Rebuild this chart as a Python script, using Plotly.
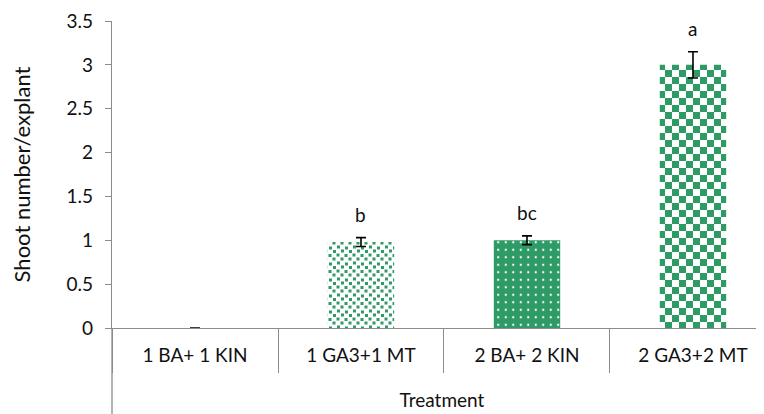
import plotly.graph_objects as go

categories = ["1 BA+ 1 KIN", "1 GA3+1 MT", "2 BA+ 2 KIN", "2 GA3+2 MT"]
values = [0.0, 0.98, 1.0, 3.0]
errors = [0.0, 0.05, 0.05, 0.15]
letters = ["", "b", "bc", "a"]
y_ticks = [0, 0.5, 1, 1.5, 2, 2.5, 3, 3.5]
y_tick_labels = ["0", "0.5", "1", "1.5", "2", "2.5", "3", "3.5"]

GREEN = "#2e9a66"
FONT = "Lato, 'Open Sans', sans-serif"
AXIS = "#8c8c8c"
TXT = "#111111"

fig = go.Figure()

confetti = ("M1,0.5H4V3.5H1Z M9,1.5H12V4.5H9Z M5,4.5H8V7.5H5Z M13,5H16V8H13Z "
            "M0.5,8.5H3.5V11.5H0.5Z M8.5,9H11.5V12H8.5Z M4.5,12.5H7.5V15.5H4.5Z M12.5,12.5H15.5V15.5H12.5Z")

patterns = [
    dict(shape="", bgcolor="white", fgcolor=GREEN),
    dict(path=confetti, size=16, bgcolor="white", fgcolor=GREEN, fillmode="replace"),
    dict(shape=".", size=7.5, solidity=0.07, bgcolor=GREEN, fgcolor="white", fillmode="replace"),
    dict(path="M0,0H7V7H0Z M7,7H14V14H7Z", size=14, bgcolor="white", fgcolor=GREEN, fillmode="replace"),
]

for i, cat in enumerate(categories):
    fig.add_trace(go.Bar(
        x=[cat], y=[values[i]],
        width=0.4,
        marker=dict(color="white" if i == 0 else GREEN, line=dict(width=0), pattern=patterns[i]),
        error_y=dict(type="data", array=[errors[i]], visible=True, color="black", thickness=1.6, width=5),
        showlegend=False,
    ))

for i, cat in enumerate(categories):
    if letters[i]:
        fig.add_annotation(x=cat, y=values[i] + errors[i], text=letters[i], showarrow=False,
                           yshift=23, font=dict(family=FONT, size=19, color=TXT))

# extension of the vertical axis line below the category axis (Excel style)
fig.add_shape(type="line", xref="paper", yref="paper", x0=0, x1=0, y0=0, y1=-0.31,
              line=dict(color=AXIS, width=1.3))

fig.update_layout(
    width=764, height=414,
    margin=dict(l=104, r=0, t=13, b=94),
    paper_bgcolor="white", plot_bgcolor="white",
    font=dict(family=FONT, color=TXT),
    bargap=0.6,
    xaxis=dict(
        categoryorder="array", categoryarray=categories,
        range=[-0.5, 3.476], automargin=False,
        showline=True, linecolor=AXIS, linewidth=1.3,
        ticks="outside", tickson="boundaries", ticklen=44, tickcolor=AXIS, tickwidth=1.3,
        tickfont=dict(family=FONT, size=19, color=TXT),
        ticklabelstandoff=10,
        title=dict(text="Treatment", font=dict(family=FONT, size=19, color=TXT), standoff=28),
        showgrid=False, zeroline=False, fixedrange=True,
    ),
    yaxis=dict(
        range=[0, 3.5], automargin=False,
        tickvals=y_ticks, ticktext=y_tick_labels,
        showline=True, linecolor=AXIS, linewidth=1.3,
        ticks="outside", ticklen=6, tickcolor=AXIS, tickwidth=1.3,
        tickfont=dict(family=FONT, size=19, color=TXT),
        ticklabelstandoff=8, ticklabeloverflow="allow",
        title=dict(text="Shoot number/explant", font=dict(family=FONT, size=22, color=TXT), standoff=30),
        showgrid=False, zeroline=False,
    ),
)

fig.write_html("out.html")
